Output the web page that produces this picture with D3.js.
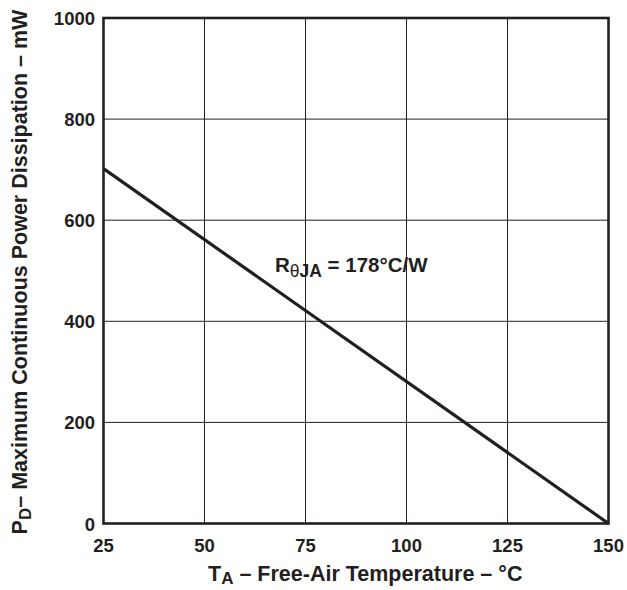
<!DOCTYPE html>
<html><head><meta charset="utf-8">
<script src="https://cdn.jsdelivr.net/npm/d3@7"></script>
<style>body{margin:0;background:#fff}svg{display:block}text{font-family:"Liberation Sans",Arial,sans-serif;font-weight:bold;fill:#231f20}</style>
</head><body>
<script>
const xTicks = [25, 50, 75, 100, 125, 150];
const yTicks = [0, 200, 400, 600, 800, 1000];
const temps = [25, 150];
const power = [702, 0];

const W = 627, H = 590;
const m = {l: 103.5, r: 608.5, t: 18, b: 523.5};
const svg = d3.select("body").append("svg").attr("width", W).attr("height", H);
const x = d3.scaleLinear().domain([25, 150]).range([m.l, m.r]);
const y = d3.scaleLinear().domain([0, 1000]).range([m.b, m.t]);

const g = svg.append("g");
g.selectAll(".vx").data(xTicks.slice(1, -1)).enter().append("line")
  .attr("x1", d => x(d)).attr("x2", d => x(d)).attr("y1", m.t).attr("y2", m.b)
  .attr("stroke", "#231f20").attr("stroke-width", 1);
g.selectAll(".hy").data(yTicks.slice(1, -1)).enter().append("line")
  .attr("y1", d => y(d)).attr("y2", d => y(d)).attr("x1", m.l).attr("x2", m.r)
  .attr("stroke", "#231f20").attr("stroke-width", 1);

const pts = temps.map((t, i) => [x(t), y(power[i])]);
g.append("path").attr("d", d3.line()(pts)).attr("fill", "none")
  .attr("stroke", "#231f20").attr("stroke-width", 3.2);

g.append("rect").attr("x", m.l).attr("y", m.t).attr("width", m.r - m.l).attr("height", m.b - m.t)
  .attr("fill", "none").attr("stroke", "#231f20").attr("stroke-width", 2.6);

// tick labels
svg.selectAll(".xl").data(xTicks).enter().append("text")
  .attr("x", d => x(d)).attr("y", 552).attr("text-anchor", "middle")
  .attr("font-size", 18.5).text(d => d);
svg.selectAll(".yl").data(yTicks).enter().append("text")
  .attr("x", 95).attr("y", d => y(d) + 7).attr("text-anchor", "end")
  .attr("font-size", 18.5).text(d => d);

// x title
const xt = svg.append("text").attr("x", 208).attr("y", 581).attr("font-size", 21.5);
xt.append("tspan").text("T");
xt.append("tspan").attr("font-size", 17).attr("dy", 3).text("A");
xt.append("tspan").attr("dy", -3).text(" – Free-Air Temperature – °C");

// y title
const yt = svg.append("text").attr("transform", "translate(27," + 272 + ") rotate(-90)")
  .attr("text-anchor", "middle").attr("font-size", 21.5);
yt.append("tspan").text("P");
yt.append("tspan").attr("font-size", 17).attr("dy", 4).text("D");
yt.append("tspan").attr("dy", -4).text("– Maximum Continuous Power Dissipation – mW");

// annotation
const an = svg.append("text").attr("x", 275).attr("y", 272).attr("font-size", 20.5);
an.append("tspan").text("R");
an.append("tspan").attr("font-size", 17.5).attr("dy", 5).attr("font-weight", "normal").text("θ");
an.append("tspan").attr("font-size", 17.5).text("JA");
an.append("tspan").attr("dy", -5).text(" = 178°C/W");
</script>
</body></html>
